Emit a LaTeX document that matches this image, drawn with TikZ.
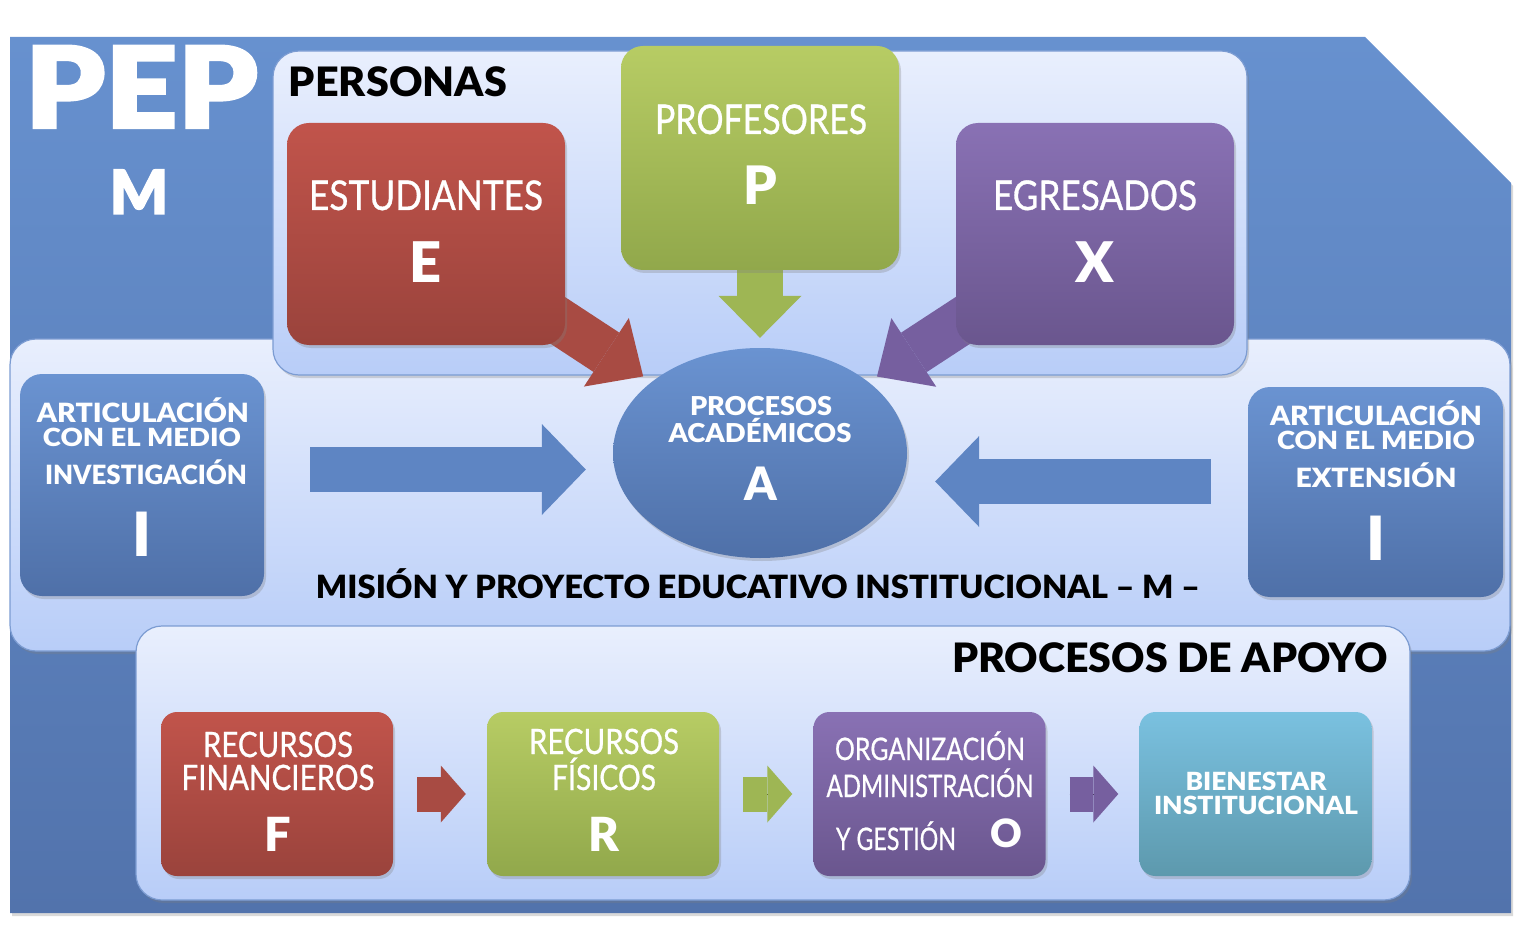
\documentclass[tikz,border=0pt]{standalone}
\usepackage{graphicx}
\usepackage{fontspec}
\setmainfont{Lato}
\newfontfamily\heavyfont{Lato Black}
\newfontfamily\ultrafont{Lato Black}[FakeBold=2]
\newfontfamily\medfont{Lato}[FakeBold=0.8]
\usepackage{tikz}
\usetikzlibrary{arrows.meta,positioning,shapes.geometric,shadows}
\usepackage{xcolor}

\definecolor{outA}{HTML}{6791CF}
\definecolor{outB}{HTML}{5273AC}
\definecolor{panA}{HTML}{E9EFFD}
\definecolor{panB}{HTML}{B8CDF8}
\definecolor{panLine}{HTML}{7C9CD2}
\definecolor{redA}{HTML}{C1544B}
\definecolor{redB}{HTML}{9A433C}
\definecolor{grnA}{HTML}{B7CC64}
\definecolor{grnB}{HTML}{91A84B}
\definecolor{purA}{HTML}{8971B4}
\definecolor{purB}{HTML}{6A568E}
\definecolor{bluA}{HTML}{6A93D1}
\definecolor{bluB}{HTML}{4F70A8}
\definecolor{tealA}{HTML}{7AC1E0}
\definecolor{tealB}{HTML}{5D99AD}
\definecolor{redArr}{HTML}{A84B43}
\definecolor{grnArr}{HTML}{9EB654}
\definecolor{purArr}{HTML}{765F9F}
\definecolor{bluArr}{HTML}{5E85C3}

\pgfdeclarelayer{bg}
\pgfdeclarelayer{arw}
\pgfsetlayers{bg,arw,main}

\newcommand{\fitw}[2]{\resizebox{#1}{\height}{#2}}

\tikzset{
  shd/.style={drop shadow={opacity=.3,shadow xshift=2pt,shadow yshift=-3pt}},
  panel/.style={draw=panLine, line width=1.2pt, rounded corners=26pt,
    top color=panA, bottom color=panB, inner sep=0pt, shd},
  box/.style={rounded corners=22pt, inner sep=0pt, shd},
  smallbox/.style={box, rounded corners=16pt,
    minimum width=232pt, minimum height=164pt},
  redbox/.style={top color=redA, bottom color=redB},
  grnbox/.style={top color=grnA, bottom color=grnB},
  purbox/.style={top color=purA, bottom color=purB},
  blubox/.style={top color=bluA, bottom color=bluB},
  tealbox/.style={top color=tealA, bottom color=tealB},
  wt/.style={anchor=base, inner sep=0pt, text=white},
  bk/.style={anchor=base, inner sep=0pt, text=black},
  fs/.style={font=\medfont\fontsize{#1}{#1}\selectfont},
  hv/.style={font=\heavyfont\fontsize{#1}{#1}\selectfont},
  ux/.style={font=\ultrafont\fontsize{#1}{#1}\selectfont},
  % shaft drawn once more into the tip, so no seam shows
  seam/.style={preaction={draw,-,shorten >=#1}},
  bigarr/.style={line width=47pt, -{Triangle[length=44pt,width=82pt,line width=0pt]}},
  midarr/.style={line width=45pt, bluArr, -{Triangle[length=44pt,width=91pt,line width=0pt]}},
  smallarr/.style={line width=35pt, -{Triangle[length=25pt,width=57pt,line width=0pt]},
    shorten <=24pt, shorten >=21pt, seam=42pt}
}

\begin{document}
\begin{tikzpicture}[x=1pt,y=-1pt]
\useasboundingbox (0,0) rectangle (1518,925);

% frame and panels
\begin{pgfonlayer}{bg}
\shade[top color=outA, bottom color=outB, shd]
  (10,37) -- (1365,37) -- (1511,183) -- (1511,913) -- (10,913) -- cycle;
\node[panel, minimum width=1500pt, minimum height=312pt] (midP) at (760,495) {};
\node[panel, minimum width=974pt, minimum height=324pt] (persP) at (760,213) {};
\node[panel, minimum width=1274pt, minimum height=274pt] (apoP) at (773,763) {};
\end{pgfonlayer}

\node[wt,ux=113] (pep) at (141.5,128) {\fitw{233pt}{PEP}};
\node[wt,ux=61] (pepM) at (139,214) {M};
\node[bk,hv=40.5] (persT) at (398,97) {\fitw{218pt}{PERSONAS}};

% personas
\node[box, redbox, minimum width=278pt, minimum height=222pt] (est) at (426,234) {};
\node[box, grnbox, minimum width=278pt, minimum height=224pt] (prof) at (760,158) {};
\node[box, purbox, minimum width=278pt, minimum height=222pt] (egr) at (1095,234) {};
\node[wt,fs=41] (estT) at (426,210) {\fitw{234pt}{ESTUDIANTES}};
\node[wt,hv=56] (estL) at (426,283) {E};
\node[wt,fs=41] (profT) at (761,134) {\fitw{212pt}{PROFESORES}};
\node[wt,hv=53] (profL) at (760,205) {P};
\node[wt,fs=41] (egrT) at (1095,210) {\fitw{204pt}{EGRESADOS}};
\node[wt,hv=56] (egrL) at (1095,283) {X};

% procesos academicos
\node[ellipse, blubox, inner sep=0pt, minimum width=294pt, minimum height=210pt, shd] (acad) at (760,453) {};
\node[wt,hv=26] (acadT1) at (761,415) {\fitw{142pt}{PROCESOS}};
\node[wt,hv=26] (acadT2) at (760,442) {\fitw{183pt}{ACADÉMICOS}};
\node[wt,hv=46] (acadL) at (761,500) {A};

% articulacion con el medio
\node[box, blubox, minimum width=244pt, minimum height=222pt] (inv) at (142,485) {};
\node[box, blubox, minimum width=255pt, minimum height=210pt] (ext) at (1375.5,492) {};
\node[wt,hv=26.5] (invT1) at (143,422) {\fitw{212pt}{ARTICULACIÓN}};
\node[wt,hv=25] (invT2) at (142,446) {\fitw{198pt}{CON EL MEDIO}};
\node[wt,hv=26.5] (invT3) at (146,484) {\fitw{202pt}{INVESTIGACIÓN}};
\node[wt,hv=61] (invL) at (142,556) {I};
\node[wt,hv=26.5] (extT1) at (1376,425) {\fitw{212pt}{ARTICULACIÓN}};
\node[wt,hv=25] (extT2) at (1376,449) {\fitw{198pt}{CON EL MEDIO}};
\node[wt,hv=26.5] (extT3) at (1376,487) {\fitw{161pt}{EXTENSIÓN}};
\node[wt,hv=61] (extL) at (1376,560) {I};

\node[bk,hv=32] (mision) at (758,598) {\fitw{884pt}{MISIÓN Y PROYECTO EDUCATIVO INSTITUCIONAL – M –}};

% procesos de apoyo
\node[bk,hv=40.5] (apoT) at (1170,672) {\fitw{436pt}{PROCESOS DE APOYO}};
\node[smallbox, redbox] (fin) at (277,794) {};
\node[smallbox, grnbox] (fis) at (603,794) {};
\node[smallbox, purbox] (org) at (929.5,794) {};
\node[smallbox, tealbox] (bien) at (1255.5,794) {};
\node[wt,fs=35] (finT1) at (278,757) {\fitw{150pt}{RECURSOS}};
\node[wt,fs=35] (finT2) at (278,790) {\fitw{193pt}{FINANCIEROS}};
\node[wt,hv=47] (finL) at (278,851) {F};
\node[wt,fs=35] (fisT1) at (604,754) {\fitw{150pt}{RECURSOS}};
\node[wt,fs=35] (fisT2) at (604,790) {\fitw{104pt}{FÍSICOS}};
\node[wt,hv=47] (fisL) at (604,851) {R};
\node[wt,fs=31] (orgT1) at (930,760) {\fitw{190pt}{ORGANIZACIÓN}};
\node[wt,fs=31] (orgT2) at (930,797) {\fitw{207pt}{ADMINISTRACIÓN}};
\node[wt,fs=31] (orgT3) at (896,850) {\fitw{120pt}{Y GESTIÓN}};
\node[wt,hv=39] (orgL) at (1006,847) {O};
\node[wt,hv=25] (bienT1) at (1256,790) {\fitw{141pt}{BIENESTAR}};
\node[wt,hv=25] (bienT2) at (1256,814) {\fitw{204pt}{INSTITUCIONAL}};

% arrows
\begin{pgfonlayer}{arw}
\draw[bigarr, redArr, shorten >=10pt, seam=48pt] (est.center) -- (acad);
\draw[bigarr, purArr, shorten >=10pt, seam=48pt] (egr.center) -- (acad);
\draw[grnArr, line width=46pt, shorten >=10pt, seam=46pt,
  -{Triangle[length=42pt,width=83pt,line width=0pt]}] (prof.center) -- (acad);
\draw[midarr, shorten <=46pt, shorten >=27pt, seam=65pt] ([yshift=15.5pt]inv.east) -- ([yshift=-16.5pt]acad.west);
\draw[midarr, shorten <=37pt, shorten >=28pt, seam=66pt] ([yshift=10.5pt]ext.west) -- ([yshift=-28.5pt]acad.east);
\draw[smallarr, redArr] (fin) -- (fis);
\draw[smallarr, grnArr] (fis) -- (org);
\draw[smallarr, purArr] (org) -- (bien);
\end{pgfonlayer}
\end{tikzpicture}
\end{document}
